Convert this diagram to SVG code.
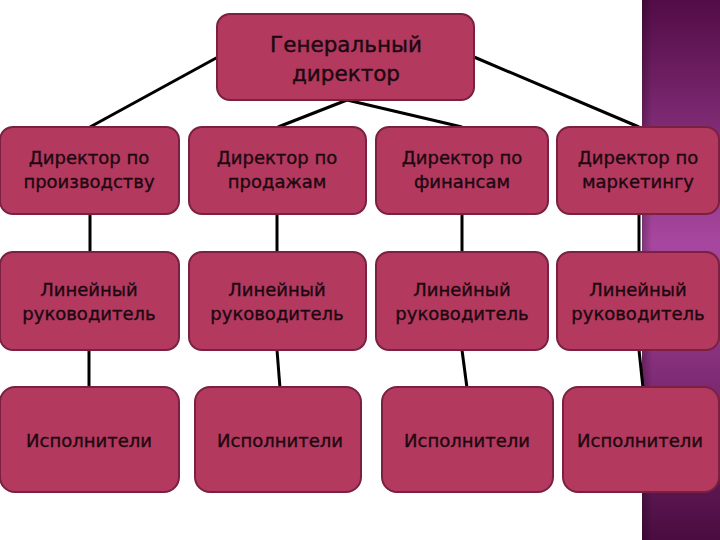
<svg xmlns="http://www.w3.org/2000/svg" width="720" height="540" viewBox="0 0 720 540">
<defs>
<linearGradient id="band" x1="0" y1="0" x2="0" y2="1">
<stop offset="0" stop-color="#520c46"/>
<stop offset="0.45" stop-color="#a8479f"/>
<stop offset="0.62" stop-color="#8e3484"/>
<stop offset="1" stop-color="#4a0c40"/>
</linearGradient>
<linearGradient id="bandEdge" x1="0" y1="0" x2="1" y2="0">
<stop offset="0" stop-color="#000" stop-opacity="0.25"/>
<stop offset="1" stop-color="#000" stop-opacity="0"/>
</linearGradient>
</defs>
<style>
.box{fill:#b3395f;stroke:#7a2142;stroke-width:2}
.t{font-family:"DejaVu Sans",sans-serif;font-size:18px;fill:#1c0810;stroke:#1c0810;stroke-width:0.35;text-anchor:middle}
.tt{font-family:"DejaVu Sans",sans-serif;font-size:21.5px;fill:#1c0810;stroke:#1c0810;stroke-width:0.4;text-anchor:middle}
.c line{stroke:#000;stroke-width:3}
</style>
<rect x="0" y="0" width="720" height="540" fill="#fff"/>
<rect x="642" y="0" width="78" height="540" fill="url(#band)"/>
<rect x="642" y="0" width="10" height="540" fill="url(#bandEdge)"/>
<g class="c" id="connectors">
<line x1="218" y1="57" x2="90" y2="127"/>
<line x1="474" y1="57" x2="639" y2="127"/>
<line x1="347" y1="100" x2="278" y2="127"/>
<line x1="347" y1="100" x2="462" y2="127"/>
<line x1="90" y1="214" x2="90" y2="252"/>
<line x1="277" y1="214" x2="277" y2="252"/>
<line x1="462" y1="214" x2="462" y2="252"/>
<line x1="639" y1="214" x2="639" y2="252"/>
<line x1="89" y1="350" x2="89" y2="388"/>
<line x1="277" y1="350" x2="280" y2="388"/>
<line x1="462" y1="350" x2="467" y2="388"/>
<line x1="639" y1="350" x2="643" y2="388"/>
</g>
<g id="gen"><rect class="box" x="217" y="14" width="257" height="86" rx="13"/><text class="tt" x="346" y="52">Генеральный</text><text class="tt" x="346" y="81">директор</text></g>
<g id="d1"><rect class="box" x="0" y="127" width="179" height="87" rx="13"/><text class="t" x="89" y="164">Директор по</text><text class="t" x="89" y="188">производству</text></g>
<g id="d2"><rect class="box" x="189" y="127" width="177" height="87" rx="13"/><text class="t" x="277" y="164">Директор по</text><text class="t" x="277" y="188">продажам</text></g>
<g id="d3"><rect class="box" x="376" y="127" width="172" height="87" rx="13"/><text class="t" x="462" y="164">Директор по</text><text class="t" x="462" y="188">финансам</text></g>
<g id="d4"><rect class="box" x="557" y="127" width="162" height="87" rx="13"/><text class="t" x="638" y="164">Директор по</text><text class="t" x="638" y="188">маркетингу</text></g>
<g id="l1"><rect class="box" x="0" y="252" width="179" height="98" rx="13"/><text class="t" x="89" y="296">Линейный</text><text class="t" x="89" y="320">руководитель</text></g>
<g id="l2"><rect class="box" x="189" y="252" width="177" height="98" rx="13"/><text class="t" x="277" y="296">Линейный</text><text class="t" x="277" y="320">руководитель</text></g>
<g id="l3"><rect class="box" x="376" y="252" width="172" height="98" rx="13"/><text class="t" x="462" y="296">Линейный</text><text class="t" x="462" y="320">руководитель</text></g>
<g id="l4"><rect class="box" x="557" y="252" width="162" height="98" rx="13"/><text class="t" x="638" y="296">Линейный</text><text class="t" x="638" y="320">руководитель</text></g>
<g id="e1"><rect class="box" x="0" y="387" width="179" height="105" rx="15"/><text class="t" x="89" y="447">Исполнители</text></g>
<g id="e2"><rect class="box" x="195" y="387" width="166" height="105" rx="15"/><text class="t" x="280" y="447">Исполнители</text></g>
<g id="e3"><rect class="box" x="382" y="387" width="171" height="105" rx="15"/><text class="t" x="467" y="447">Исполнители</text></g>
<g id="e4"><rect class="box" x="563" y="387" width="156" height="105" rx="15"/><text class="t" x="640" y="447">Исполнители</text></g>
</svg>
